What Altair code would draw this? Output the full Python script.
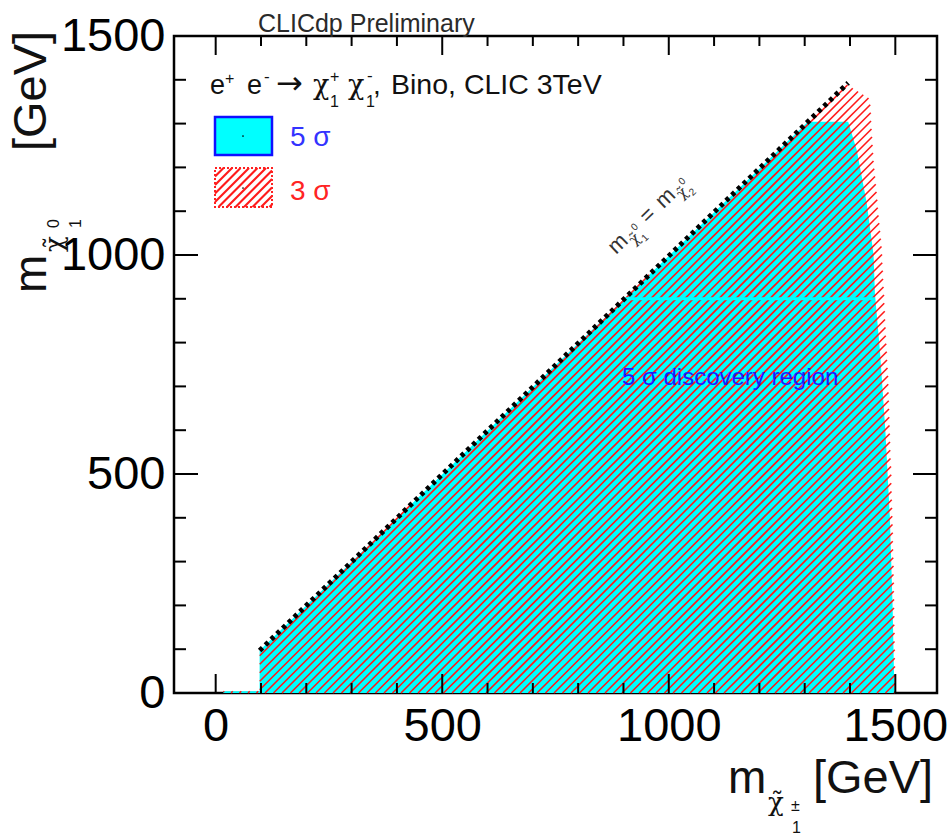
import altair as alt
import pandas as pd
import numpy as np

# ---------------- data ----------------
# upper boundary of the 5 sigma discovery region (x = m_chi1+-, y = m_chi10), GeV
sig5_x = [17, 96.9, 97, 1307, 1396, 1415, 1437, 1452, 1455, 1466, 1478, 1488, 1494, 1498]
sig5_y = [4, 4, 97, 1304, 1304, 1239, 1118, 1000, 912, 782, 600, 400, 200, 0]
# upper boundary of the 3 sigma region
sig3_x = [17, 96.9, 97, 1393, 1444, 1452, 1470, 1477, 1485, 1491, 1496, 1499, 1500]
sig3_y = [4, 4, 97, 1390, 1357, 1216, 1018, 866, 700, 500, 300, 100, 0]
# kinematic limit line m_chi10 = m_chi20
diag_x = [97, 1396]
diag_y = [97, 1393]
# unhatched strip inside the 5 sigma region
gap_x = [903, 1455]
gap_y = [900, 900]
# axis ticks
x_major = [0, 500, 1000, 1500]
y_major = [0, 500, 1000, 1500]
x_minor = [100, 200, 300, 400, 600, 700, 800, 900, 1100, 1200, 1300, 1400]
y_minor = [100, 200, 300, 400, 600, 700, 800, 900, 1100, 1200, 1300, 1400]

# ---------------- layout ----------------
W, H = 763, 657
OX, OY = 174, 36
X_DOM = [-92, 1592]
Y_DOM = [0, 1500]
kx = W / (X_DOM[1] - X_DOM[0])
ky = H / (Y_DOM[1] - Y_DOM[0])
FONT = "Liberation Sans"
GFONT = "DejaVu Serif"
HATCH = 8.5  # px spacing of the hatch lines

XS = alt.Scale(domain=X_DOM, nice=False, zero=False)
YS = alt.Scale(domain=Y_DOM, nice=False, zero=False)
XAX = alt.Axis(values=x_major, ticks=False, tickSize=0, domain=False, grid=False,
               labelFontSize=47, labelFont=FONT, labelColor="black", labelPadding=10,
               labelFlush=False, title=None, format="d", labelOverlap=False)
YAX = alt.Axis(values=y_major, ticks=False, tickSize=0, domain=False, grid=False,
               labelFontSize=47, labelFont=FONT, labelColor="black", labelPadding=9,
               labelFlush=False, title=None, format="d", labelOverlap=False)


def X(f):
    return alt.X(f, type="quantitative", scale=XS, axis=XAX)


def Y(f):
    return alt.Y(f, type="quantitative", scale=YS, axis=YAX, stack=None)


# ---------------- hatch segments clipped to the 3 sigma region ----------------
def hatch_segments(bx, by, spacing):
    pxs = np.linspace(0, W, W * 4 + 1)
    xd = X_DOM[0] + pxs / kx
    segs = []
    for c in np.arange(0, W + H + spacing, spacing):
        pys = c - pxs
        yd = (H - pys) / ky
        top = np.interp(xd, bx, by, left=-1, right=-1)
        inside = (yd >= 0) & (yd <= top) & (xd >= bx[0]) & (xd <= bx[-1])
        idx = np.flatnonzero(inside)
        if idx.size == 0:
            continue
        breaks = np.flatnonzero(np.diff(idx) > 1)
        starts = np.concatenate([[idx[0]], idx[breaks + 1]])
        ends = np.concatenate([idx[breaks], [idx[-1]]])
        for s, e in zip(starts, ends):
            if e > s:
                segs.append((xd[s], yd[s], xd[e], yd[e]))
    return pd.DataFrame(segs, columns=["x", "y", "x2", "y2"])


hatch_df = hatch_segments(sig3_x, sig3_y, HATCH)

# ---------------- layers ----------------
sig5_df = pd.DataFrame({"x": sig5_x, "y": sig5_y})
area5 = alt.Chart(sig5_df).mark_area(color="#00ffff", opacity=1, interpolate="linear").encode(
    x=X("x"), y=Y("y"), y2=alt.datum(0))

hatch = alt.Chart(hatch_df).mark_rule(color="#ff1a1a", strokeWidth=1.6).encode(
    x=X("x"), y=Y("y"), x2="x2", y2="y2")

gap = alt.Chart(pd.DataFrame({"x": gap_x, "y": gap_y})).mark_line(
    color="#00ffff", strokeWidth=3).encode(x=X("x"), y=Y("y"))

diag = alt.Chart(pd.DataFrame({"x": diag_x, "y": diag_y})).mark_line(
    color="black", strokeWidth=5, strokeDash=[4, 4], strokeCap="butt").encode(x=X("x"), y=Y("y"))

# ticks (ROOT style, inside, on all four sides)
xmaj = pd.DataFrame({"x": x_major})
xmin = pd.DataFrame({"x": x_minor})
ymaj = pd.DataFrame({"y": y_major})
ymin = pd.DataFrame({"y": y_minor})
tick_layers = []
for df, ln in [(xmaj, 19), (xmin, 10)]:
    tick_layers.append(alt.Chart(df).mark_rule(color="black", strokeWidth=2).encode(
        x=X("x"), y=alt.value(H), y2=alt.value(H - ln)))
    tick_layers.append(alt.Chart(df).mark_rule(color="black", strokeWidth=2).encode(
        x=X("x"), y=alt.value(0), y2=alt.value(ln)))
for df, ln in [(ymaj, 24), (ymin, 12)]:
    tick_layers.append(alt.Chart(df).mark_rule(color="black", strokeWidth=2).encode(
        y=Y("y"), x=alt.value(0), x2=alt.value(ln)))
    tick_layers.append(alt.Chart(df).mark_rule(color="black", strokeWidth=2).encode(
        y=Y("y"), x=alt.value(W), x2=alt.value(W - ln)))

# ---------------- legend boxes (pixel space) ----------------
box5 = (215, 117, 272, 155)
box3 = (215, 168, 272, 207)

rect5 = alt.Chart(pd.DataFrame({"a": [box5[0] - OX], "b": [box5[1] - OY],
                                "c": [box5[2] - OX], "d": [box5[3] - OY]})).mark_rect(
    fill="#00ffff", stroke="#1010ff", strokeWidth=2.5).encode(
    x=alt.X("a:Q", scale=None, axis=None), y=alt.Y("b:Q", scale=None, axis=None),
    x2="c:Q", y2="d:Q")

lh = []
for c in np.arange(box3[0] + box3[1], box3[2] + box3[3] + HATCH, HATCH):
    xs_ = max(box3[0], c - box3[3])
    xe_ = min(box3[2], c - box3[1])
    if xe_ > xs_:
        lh.append((xs_ - OX, c - xs_ - OY, xe_ - OX, c - xe_ - OY))
lh_df = pd.DataFrame(lh, columns=["a", "b", "c", "d"])
leg_hatch = alt.Chart(lh_df).mark_rule(color="#ff1a1a", strokeWidth=2.2).encode(
    x=alt.X("a:Q", scale=None, axis=None), y=alt.Y("b:Q", scale=None, axis=None),
    x2="c:Q", y2="d:Q")
rect3 = alt.Chart(pd.DataFrame({"a": [box3[0] - OX], "b": [box3[1] - OY],
                                "c": [box3[2] - OX], "d": [box3[3] - OY]})).mark_rect(
    fill=None, stroke="#ff2020", strokeWidth=2, strokeDash=[2, 2]).encode(
    x=alt.X("a:Q", scale=None, axis=None), y=alt.Y("b:Q", scale=None, axis=None),
    x2="c:Q", y2="d:Q")
dots = alt.Chart(pd.DataFrame({"a": [243 - OX, 243 - OX], "b": [136 - OY, 188 - OY]})).mark_point(
    filled=True, color="black", size=3, opacity=1).encode(
    x=alt.X("a:Q", scale=None, axis=None), y=alt.Y("b:Q", scale=None, axis=None))

# ---------------- texts (page pixel positions, baseline-left) ----------------
K = "#111111"
CHI = "\u03c7\u0303"
texts = [
    ("CLICdp Preliminary", 258, 31.5, 25, "#2a2a2a", 0, FONT),
    ("e", 210, 94, 27, K, 0, FONT), ("+", 225, 84, 16, K, 0, FONT),
    ("e", 247, 94, 27, K, 0, FONT), ("-", 264, 82, 17, K, 0, FONT),
    ("\u2192", 276, 94, 32, K, 0, "DejaVu Sans"),
    ("\u03c7", 313, 94, 27, K, 0, GFONT), ("+", 330, 82, 16, K, 0, FONT), ("1", 330, 107, 16, K, 0, FONT),
    ("\u03c7", 348, 94, 27, K, 0, GFONT), ("-", 367, 81, 17, K, 0, FONT), ("1", 366, 107, 16, K, 0, FONT),
    (",", 373, 94, 28, K, 0, FONT),
    ("Bino, CLIC 3TeV", 391, 94, 28.5, K, 0, FONT),
    ("5 \u03c3", 290, 146, 28, "#3333ff", 0, FONT),
    ("3 \u03c3", 290, 200, 28, "#ff2424", 0, FONT),
    ("5 \u03c3 discovery region", 622, 385, 24, "#1a1aff", 0, FONT),
    # x title
    ("m", 728, 793, 46, K, 0, FONT), (CHI, 768, 811, 26, K, 0, GFONT),
    ("\u00b1", 791, 811, 16, K, 0, FONT), ("1", 792, 833, 16, K, 0, FONT),
    ("[GeV]", 813, 793, 47, K, 0, FONT),
    # y title (rotated)
    ("m", 46, 293, 46, K, 270, FONT), (CHI, 63, 252, 26, K, 270, GFONT),
    ("0", 59, 228, 16, K, 270, FONT), ("1", 81, 228, 16, K, 270, FONT),
    ("[GeV]", 46, 151, 47, K, 270, FONT),
]
# label along the kinematic limit line
th = np.deg2rad(44.0)
ux, uy = np.cos(th), -np.sin(th)
nx, ny = np.sin(th), np.cos(th)
bx0, by0 = 616, 255
for t, a, b, s, f in [("m", 0, 0, 22, FONT), (CHI, 20, 6, 15, GFONT),
                      ("1", 30, 11, 10, FONT), ("0", 30, -4, 10, FONT),
                      ("=", 44, 0, 22, FONT), ("m", 66, 0, 22, FONT), (CHI, 86, 6, 15, GFONT),
                      ("2", 96, 11, 10, FONT), ("0", 96, -4, 10, FONT)]:
    texts.append((t, bx0 + a * ux + b * nx, by0 + a * uy + b * ny, s, "#333333", 316, f))

tdf = pd.DataFrame(texts, columns=["t", "px", "py", "fs", "col", "ang", "font"])
tdf["px"] = tdf["px"] - OX
tdf["py"] = tdf["py"] - OY


def text_layer(font):
    return alt.Chart(tdf[tdf["font"] == font]).mark_text(
        font=font, align="left", baseline="alphabetic").encode(
        x=alt.X("px:Q", scale=None, axis=None), y=alt.Y("py:Q", scale=None, axis=None),
        text="t:N", size=alt.Size("fs:Q", scale=None, legend=None),
        color=alt.Color("col:N", scale=None, legend=None),
        angle=alt.Angle("ang:Q", scale=None, legend=None))


text_layers = [text_layer(f) for f in tdf["font"].unique()]

chart = alt.layer(area5, hatch, gap, diag, *tick_layers, rect5, leg_hatch, rect3, dots,
                  *text_layers).properties(
    width=W, height=H,
    autosize=alt.AutoSizeParams(type="none"),
    padding={"left": OX, "top": OY, "right": 951 - OX - W, "bottom": 836 - OY - H},
    background="white",
).configure_view(stroke="black", strokeWidth=2.5)

chart.save("out.html", embed_options={"renderer": "svg", "actions": False})
